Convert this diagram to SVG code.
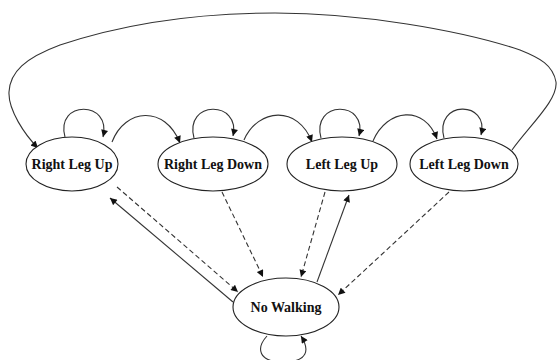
<svg xmlns="http://www.w3.org/2000/svg" width="557" height="360" viewBox="0 0 557 360">
<style>
.n ellipse{fill:#fff;stroke:#222;stroke-width:1.1}
.n text{font-family:"Liberation Serif","Times New Roman",serif;font-weight:bold;font-size:14px;fill:#111;text-anchor:middle}
.e path,.e line{fill:none;stroke:#333;stroke-width:1.1}
.d{stroke-dasharray:5,3}
</style>
<defs>
<marker id="ah" viewBox="0 0 10 10" refX="10" refY="5" markerWidth="8" markerHeight="7" markerUnits="userSpaceOnUse" orient="auto">
<path d="M0,0 L10,5 L0,10 z" fill="#111"/>
</marker>
</defs>
<rect width="557" height="360" fill="#fff"/>
<g class="e">
<path d="M512,150 C530,125 558,100 556,82 C553,65 540,58 520,50 C460,30 360,13 275,13 C190,13 120,25 60,45 C25,58 10,72 9,92 C8,110 25,135 38,148" marker-end="url(#ah)"/>
<path d="M65,137 C55,100 112,100 103,137" marker-end="url(#ah)"/>
<path d="M194,138 C184,100 241,100 233,136" marker-end="url(#ah)"/>
<path d="M321,138 C311,100 368,100 359,136" marker-end="url(#ah)"/>
<path d="M444,138 C434,100 490,100 481,135" marker-end="url(#ah)"/>
<path d="M112,142 C125,108 165,105 180,143" marker-end="url(#ah)"/>
<path d="M244,140 C258,108 298,105 312,142" marker-end="url(#ah)"/>
<path d="M373,141 C387,108 425,105 437,139" marker-end="url(#ah)"/>
<line class="d" x1="117" y1="187" x2="238" y2="292" marker-end="url(#ah)"/>
<line x1="233" y1="302" x2="110" y2="198" marker-end="url(#ah)"/>
<line class="d" x1="222" y1="192" x2="263" y2="277" marker-end="url(#ah)"/>
<line class="d" x1="325" y1="192" x2="301" y2="277" marker-end="url(#ah)"/>
<line x1="317" y1="282" x2="349" y2="195" marker-end="url(#ah)"/>
<line class="d" x1="449" y1="192" x2="338" y2="295" marker-end="url(#ah)"/>
<path d="M267,336 C256,348 258,362 283,362 C308,362 310,350 301,336" marker-end="url(#ah)"/>
</g>
<g id="rlu" class="n"><ellipse cx="72" cy="164" rx="46" ry="27"/><text x="72" y="169">Right Leg Up</text></g>
<g id="rld" class="n"><ellipse cx="213" cy="164" rx="55" ry="27"/><text x="213" y="169">Right Leg Down</text></g>
<g id="llu" class="n"><ellipse cx="342" cy="164" rx="55" ry="27"/><text x="342" y="169">Left Leg Up</text></g>
<g id="lld" class="n"><ellipse cx="464" cy="164" rx="54" ry="27"/><text x="464" y="169">Left Leg Down</text></g>
<g id="nw" class="n"><ellipse cx="286" cy="307" rx="53" ry="29"/><text x="286" y="312">No Walking</text></g>
</svg>
